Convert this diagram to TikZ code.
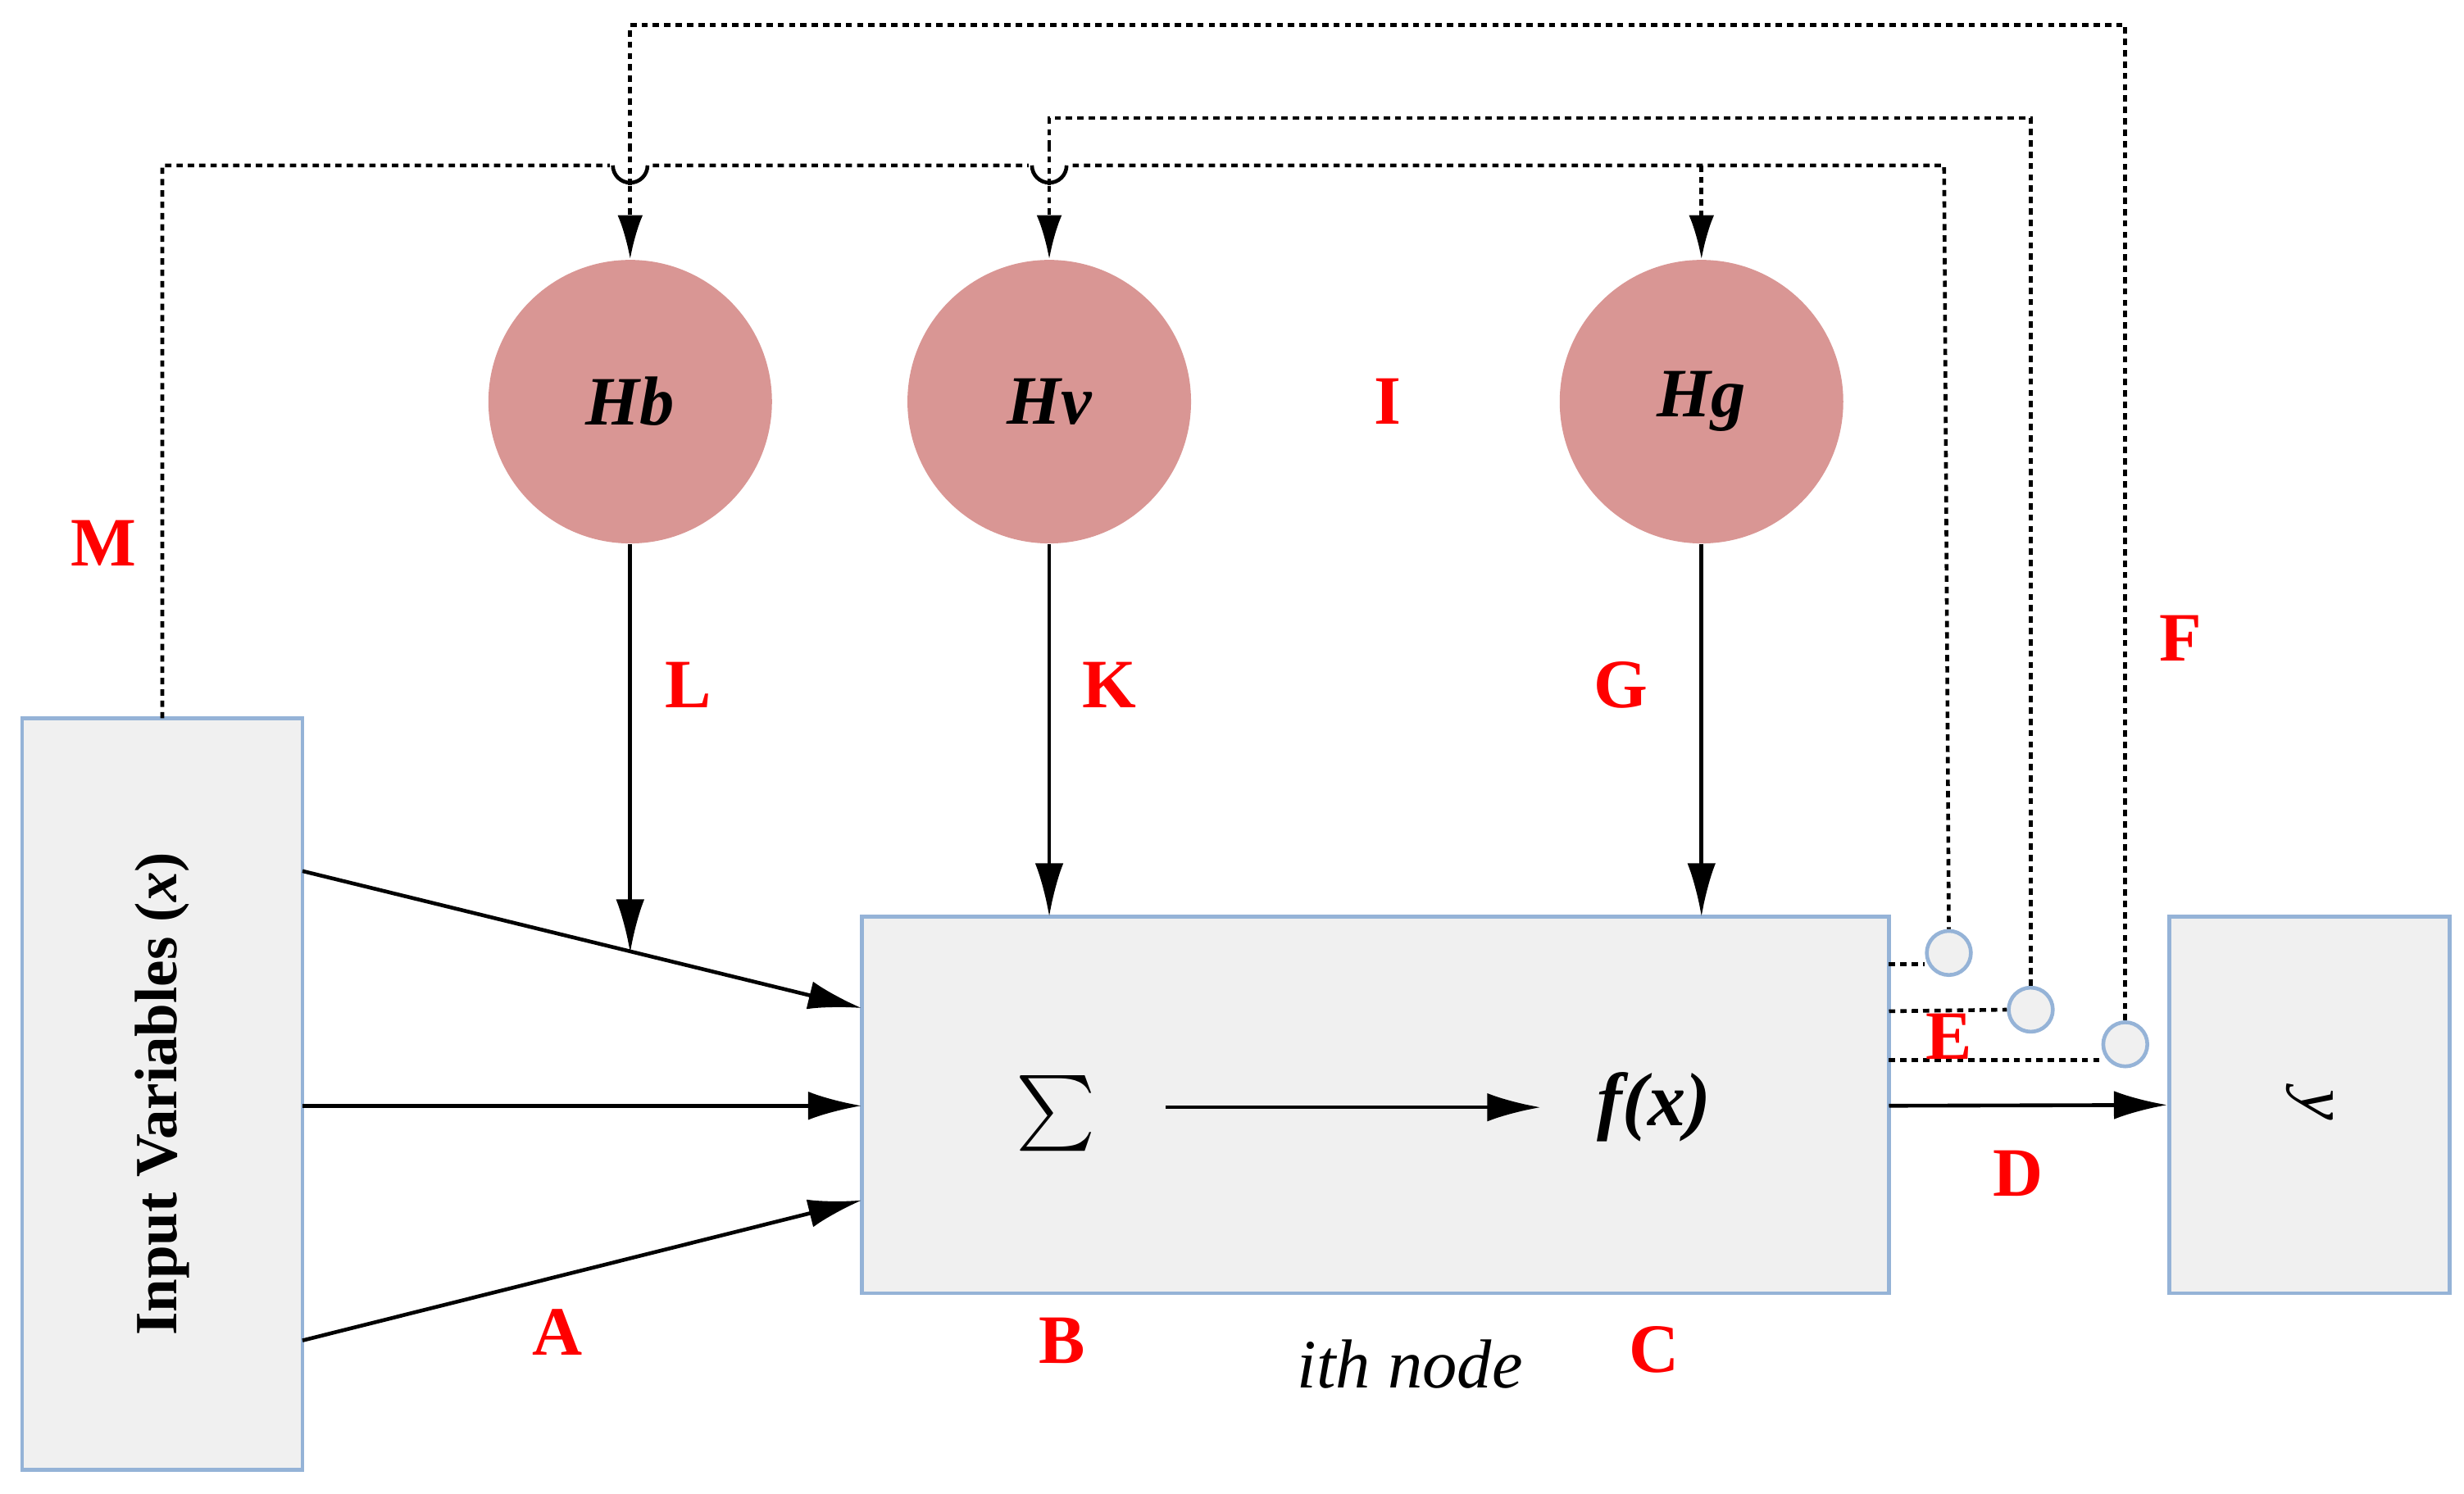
\documentclass[tikz,border=0pt]{standalone}
\usepackage{fontspec}
\setmainfont{Liberation Serif}
\usetikzlibrary{arrows.meta}
\definecolor{bord}{RGB}{149,179,215}
\begin{document}
\begin{tikzpicture}[x=0.5pt,y=-0.5pt,
 box/.style={draw=bord,line width=1.2pt,fill=gray!12},
 hc/.style={circle,fill={rgb,255:red,217;green,150;blue,148},minimum size=90pt,inner sep=0pt,font=\fontsize{22}{24}\selectfont\bfseries\itshape},
 sc/.style={circle,draw=bord,line width=1.2pt,fill=gray!12,minimum size=14pt,inner sep=0pt},
 lab/.style={text=red,font=\fontsize{22}{24}\selectfont\bfseries},
 arr/.style={-{Latex[length=17pt,width=9pt]},line width=1.2pt},
 dot/.style={line width=1.2pt,dash pattern=on 2pt off 1.6pt},
 darr/.style={dot,-{Latex[length=14pt,width=8pt]}}]
\useasboundingbox (0,0) rectangle (1564,948);
\node[box,minimum width=89pt,minimum height=238.5pt,inner sep=0pt] (in) at (103,694.5) {};
\node[rotate=90,font=\fontsize{19}{21}\selectfont\bfseries] at (in) {Input Variables (\textit{x})};
\node[box,minimum width=326pt,minimum height=119.5pt,inner sep=0pt] (mb) at (873,701.5) {};
\node[box,minimum width=89pt,minimum height=119.5pt,inner sep=0pt] (yb) at (1466,701.5) {};
\node[rotate=-90,font=\fontsize{22}{24}\selectfont\itshape] at (yb) {y};
\node[hc] (hb) at (400,255) {Hb};
\node[hc] (hv) at (666,255) {Hv};
\node[hc] (hg) at (1080,255) {Hg};
\node (sig) at (670,707) {\scalebox{2.4}{$\sum$}};
\node[font=\fontsize{24}{26}\selectfont\bfseries\itshape] (fx) at (1050,703) {f(x)};
\draw[arr] (740,703) -- (978,703);
\coordinate (i1) at (192,553); \coordinate (i2) at (192,702); \coordinate (i3) at (192,851);
\draw[arr] (i1) -- (547,640);
\draw[arr] (i2) -- (547,702);
\draw[arr] (i3) -- (547,762);
\draw[arr] (hb.south) -- (400,605);
\draw[arr] (hv.south) -- (666,582);
\draw[arr] (hg.south) -- (1080,582);
\draw[arr] (1199,702) -- (yb.west);
\node[sc] (c1) at (1237,605) {};
\node[sc] (c2) at (1289,641) {};
\node[sc] (c3) at (1349,663) {};
\draw[dot] (1199,612) -- (c1.west|-0,612);
\draw[dot] (1199,642) -- (c2.west);
\draw[dot] (1199,673) -- (1334,673);
\draw[dot] (103,456) -- (103,105) -- (1234,105) -- (c1.north);
\draw[darr] (1080,105) -- (hg.north);
\draw[dot] (c2.north) -- (1289,75) -- (666,75) -- (666,92);
\draw[darr] (666,118) -- (hv.north);
\draw[dot] (c3.north) -- (1349,16) -- (400,16) -- (400,92);
\draw[darr] (400,118) -- (hb.north);
\foreach \x in {400,666}{
 \fill[white] (\x-13,98) rectangle (\x+13,112);
 \draw[line width=1.2pt] (\x-11,105) arc (180:0:11);
 \draw[dot] (\x,92) -- (\x,118);}
\node[lab] at (66,345) {M};
\node[lab] at (437,435) {L};
\node[lab] at (704,435) {K};
\node[lab] at (1029,435) {G};
\node[lab] at (881,255) {I};
\node[lab] at (1384,405) {F};
\node[lab] at (1237,658) {E};
\node[lab] at (1281,745) {D};
\node[lab] at (1050,857) {C};
\node[lab] at (674,851) {B};
\node[lab] at (354,846) {A};
\node[font=\fontsize{22}{24}\selectfont\itshape] at (895,866) {ith node};
\end{tikzpicture}
\end{document}
